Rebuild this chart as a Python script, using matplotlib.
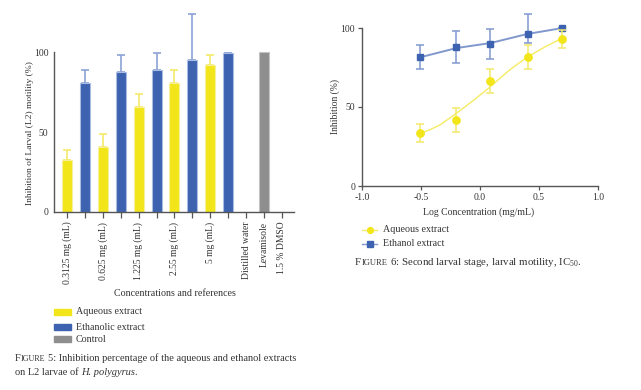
import numpy as np
import matplotlib
matplotlib.use("Agg")
import matplotlib.pyplot as plt
from matplotlib.patches import Rectangle
from matplotlib.lines import Line2D

plt.rcParams['font.family'] = ['Liberation Serif', 'DejaVu Serif']
plt.rcParams['mathtext.fontset'] = 'custom'
plt.rcParams['mathtext.rm'] = 'Liberation Serif'

# ---- Figure 5 data (bar chart) ----
concentrations = ["0.3125 mg (mL)", "0.625 mg (mL)", "1.225 mg (mL)", "2.55 mg (mL)", "5 mg (mL)"]
references = ["Distilled water", "Levamisole", "1.5 % DMSO"]
aq_vals = [32.5, 40.6, 65.6, 80.6, 92]
aq_err = [6.5, 8.4, 8.4, 8.1, 6]
eth_vals = [80.6, 87.5, 89, 95, 99.5]
eth_err = [8.4, 10.5, 10.5, 29, 0]
ref_vals = [0, 100, 0]

# ---- Figure 6 data (IC50 curves) ----
log_conc = [-0.505, -0.204, 0.088, 0.407, 0.699]
aq_mean = [33.3, 41.8, 66.5, 81.4, 93]
aq_lo = [5.7, 7.6, 7.6, 7.6, 5.9]
aq_hi = [5.7, 7.4, 7.3, 7.6, 5.7]
eth_mean = [81.4, 88.2, 89.9, 96.2, 99.8]
eth_lo = [7.6, 10.4, 9.7, 5.7, 0]
eth_hi = [7.6, 10.1, 9.7, 12.7, 0]
aq_fit_x = [-0.5, -0.42, -0.34, -0.2, -0.05, 0.09, 0.25, 0.4, 0.55, 0.7]
aq_fit_y = [33.5, 35.8, 38.6, 46, 54.5, 63, 73.4, 81.6, 88, 93.7]
eth_fit_x = [-0.5, -0.2, 0.09, 0.4, 0.7]
eth_fit_y = [81.6, 87.3, 90.5, 96.2, 100]

YELLOW = '#F2E61B'
BLUE = '#3D62B0'
GRAY = '#8E8E8E'
TXT = '#333333'
SPINE = '#555555'

W, H = 641, 390
fig = plt.figure(figsize=(W / 100, H / 100), dpi=100)
renderer = fig.canvas.get_renderer()


def fx(px):
    return px / W


def fy(py):
    return 1 - py / H


def chain(pieces, x, y):
    # put text pieces one after another on a baseline (small caps, italics)
    cur = x
    for s, size, style, gap in pieces:
        cur += gap
        t = fig.text(fx(cur), fy(y), s, fontsize=size, style=style, color=TXT,
                     va='baseline', ha='left')
        cur = t.get_window_extent(renderer=renderer).x1


# ================= Figure 5 =================
ax1 = fig.add_axes([fx(54), fy(212), fx(294) - fx(54), 200 / H])
aq_x = np.arange(len(concentrations)) * 2
eth_x = aq_x + 1
ref_x = np.arange(len(references)) + 2 * len(concentrations)
bw = 0.56

ax1.bar(aq_x, aq_vals, width=bw, color=YELLOW, edgecolor='#F7F09A', linewidth=0.8, zorder=2)
ax1.bar(eth_x, eth_vals, width=bw, color=BLUE, edgecolor='#A9BCE2', linewidth=0.8, zorder=2)
ax1.bar(ref_x, ref_vals, width=bw, color=GRAY, edgecolor='#C4C4C4', linewidth=0.8, zorder=2)
ax1.errorbar(aq_x, aq_vals, yerr=[np.zeros(len(aq_x)), aq_err], fmt='none',
             ecolor='#F4EA6A', elinewidth=1.2, capsize=2.8, capthick=1.2, zorder=1)
ax1.errorbar(eth_x, eth_vals, yerr=[np.zeros(len(eth_x)), eth_err], fmt='none',
             ecolor='#8CA3D6', elinewidth=1.2, capsize=2.8, capthick=1.2, zorder=1)

ax1.set_xlim(-0.73, 12.68)
ax1.set_ylim(0, 125)
labels = [''] * 13
for i, c in zip(aq_x, concentrations):
    labels[i] = c
for i, r in zip(ref_x, references):
    labels[i] = r
ax1.set_xticks(np.arange(13))
ax1.set_xticklabels(labels, rotation=90, fontsize=6.9, color=TXT, va='top')
ax1.set_yticks([0, 50, 100])
ax1.set_yticklabels(['0', '50', '100'], fontsize=6.9, color=TXT)
ax1.tick_params(axis='x', length=4, width=0.9, color=SPINE, pad=3)
ax1.tick_params(axis='y', length=0, pad=4)
for s in ['top', 'right']:
    ax1.spines[s].set_visible(False)
ax1.spines['left'].set_bounds(0, 100)
for s in ['left', 'bottom']:
    ax1.spines[s].set_color(SPINE)
    ax1.spines[s].set_linewidth(1.0)
ax1.patch.set_alpha(0)

fig.text(fx(30), fy(133), 'Inhibition of Larval (L2) motility (%)', rotation=90,
         fontsize=6.8, color=TXT, ha='center', va='center')
fig.text(fx(175), fy(293), 'Concentrations and references', fontsize=7.2,
         color=TXT, ha='center', va='center')

legend5 = [('Aqueous extract', YELLOW, 312), ('Ethanolic extract', BLUE, 327), ('Control', GRAY, 339)]
for name, col, yy in legend5:
    fig.patches.append(Rectangle((fx(54), fy(yy + 3)), fx(17), 6 / H,
                                 transform=fig.transFigure, color=col))
    fig.text(fx(76), fy(yy), name, fontsize=7.2, color=TXT, va='center', ha='left')

chain([('F', 7.5, 'normal', 0), ('IGURE', 5.9, 'normal', 0.3),
       ('5: Inhibition percentage of the aqueous and ethanol extracts', 7.5, 'normal', 2.4)],
      15, 361)
chain([('on L2 larvae of', 7.5, 'normal', 0), ('H. polygyrus', 7.5, 'italic', 2.4),
       ('.', 7.5, 'normal', -0.5)], 15, 375)

# ================= Figure 6 =================
ax2 = fig.add_axes([fx(362), fy(186), fx(598) - fx(362), 158 * 1.12 / H])
ax2.plot(aq_fit_x, aq_fit_y, color='#F5EC62', lw=1.0, zorder=1)
ax2.plot(eth_fit_x, eth_fit_y, color='#8098CE', lw=1.4, zorder=1)
ax2.errorbar(log_conc, aq_mean, yerr=[aq_lo, aq_hi], fmt='o', color=YELLOW, ms=5.3,
             ecolor='#F4EA6A', elinewidth=1.1, capsize=2.6, capthick=1.1, zorder=3)
ax2.errorbar(log_conc, eth_mean, yerr=[eth_lo, eth_hi], fmt='s', color=BLUE, ms=4.6,
             ecolor='#7F98CF', elinewidth=1.1, capsize=2.6, capthick=1.1, zorder=2)

ax2.set_xlim(-1, 1)
ax2.set_ylim(0, 112)
ax2.set_xticks([-1, -0.5, 0, 0.5, 1])
ax2.set_xticklabels(['-1.0', '-0.5', '0.0', '0.5', '1.0'], fontsize=6.9, color=TXT)
ax2.set_yticks([0, 50, 100])
ax2.set_yticklabels(['0', '50', '100'], fontsize=6.9, color=TXT)
ax2.tick_params(axis='both', length=3, width=0.9, color=SPINE, pad=2)
for s in ['top', 'right']:
    ax2.spines[s].set_visible(False)
ax2.spines['left'].set_bounds(0, 100)
for s in ['left', 'bottom']:
    ax2.spines[s].set_color(SPINE)
    ax2.spines[s].set_linewidth(1.0)
ax2.patch.set_alpha(0)

fig.text(fx(335), fy(107), 'Inhibition (%)', rotation=90, fontsize=6.9,
         color=TXT, ha='center', va='center')
fig.text(fx(479), fy(212), 'Log Concentration (mg/mL)', fontsize=7,
         color=TXT, ha='center', va='center')

legend6 = [('Aqueous extract', YELLOW, '#F4EA6A', 'o', 230), ('Ethanol extract', BLUE, '#7F98CF', 's', 244)]
for name, col, lcol, mk, yy in legend6:
    fig.add_artist(Line2D([fx(362), fx(377)], [fy(yy), fy(yy)], color=lcol, lw=1.0,
                          transform=fig.transFigure))
    fig.add_artist(Line2D([fx(369.5)], [fy(yy)], marker=mk, color=col, ms=4.2,
                          transform=fig.transFigure))
    fig.text(fx(383), fy(yy), name, fontsize=7.2, color=TXT, va='center', ha='left')

chain([('F', 7.8, 'normal', 0), ('IGURE', 6.1, 'normal', 0.3),
       ('6: Second larval stage, larval motility, IC$_{50}$.', 7.8, 'normal', 2.5)],
      355, 265)

fig.savefig('out.png', dpi=100)
